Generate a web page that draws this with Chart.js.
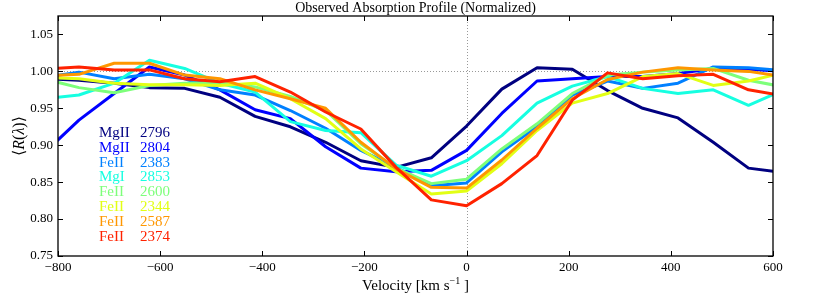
<!DOCTYPE html>
<html><head><meta charset="utf-8">
<script src="https://cdn.jsdelivr.net/npm/chart.js@4/dist/chart.umd.min.js"></script>
<style>html,body{margin:0;padding:0;background:#fff}#wrap{width:830px;height:301px}</style>
</head><body><div id="wrap"><canvas id="c" width="830" height="301"></canvas></div>
<script>
// velocity grid [km/s]
const velocity = [-828,-759,-690,-621,-552,-483,-414,-345,-276,-207,-138,-69,0,69,138,207,276,345,414,483,552,621];
// normalized profiles <R(lambda)>
const mgII2796 = [0.990,0.988,0.984,0.978,0.977,0.965,0.939,0.925,0.904,0.879,0.870,0.883,0.926,0.976,1.005,1.003,0.974,0.950,0.937,0.904,0.869,0.863];
const mgII2804 = [0.889,0.934,0.970,1.006,0.995,0.975,0.948,0.936,0.898,0.869,0.864,0.866,0.893,0.943,0.987,0.990,0.993,0.993,0.997,1.004,1.003,1.000];
const feII2383 = [0.992,0.999,0.990,0.996,0.990,0.975,0.968,0.947,0.923,0.893,0.870,0.845,0.849,0.891,0.925,0.968,0.987,0.977,0.984,1.006,1.005,1.001];
const mgI2853  = [0.963,0.968,0.984,1.015,1.004,0.984,0.972,0.932,0.920,0.917,0.873,0.858,0.879,0.913,0.957,0.980,0.993,0.977,0.970,0.975,0.954,0.975];
const feII2600 = [0.990,0.978,0.971,0.981,0.984,0.985,0.979,0.966,0.947,0.902,0.869,0.848,0.854,0.895,0.929,0.970,0.995,0.999,1.002,1.004,0.988,0.979];
const feII2344 = [0.992,0.990,0.984,0.982,0.982,0.981,0.984,0.963,0.936,0.895,0.864,0.834,0.838,0.875,0.920,0.957,0.970,0.993,0.997,0.981,0.987,0.998];
const feII2587 = [0.994,0.996,1.011,1.011,0.995,0.990,0.975,0.963,0.950,0.904,0.868,0.843,0.842,0.880,0.923,0.963,0.989,0.999,1.005,1.002,1.000,0.993];
const feII2374 = [1.003,1.006,1.002,1.002,0.990,0.986,0.993,0.972,0.945,0.922,0.870,0.826,0.818,0.848,0.886,0.961,0.998,0.990,0.994,0.996,0.975,0.967];

const ionNames = ['MgII','MgII','FeII','MgI','FeII','FeII','FeII','FeII'];
const wavelengths = ['2796','2804','2383','2853','2600','2344','2587','2374'];
const xTicks = [-800,-600,-400,-200,0,200,400,600];
const yTicks = [0.75,0.80,0.85,0.90,0.95,1.00,1.05];
const colors = ['#000080','#0000ff','#0080ff','#16ffe1','#7dff7a','#e2ff14','#ff9700','#ff2200'];
const series = [mgII2796,mgII2804,feII2383,mgI2853,feII2600,feII2344,feII2587,feII2374];
const chartTitle = 'Observed Absorption Profile (Normalized)';

const SERIF = "'Liberation Serif','DejaVu Serif',serif";

const datasets = series.map((vals, i) => ({
  label: ionNames[i] + ' ' + wavelengths[i],
  data: velocity.map((v, k) => ({x: v, y: vals[k]})),
  borderColor: colors[i],
  backgroundColor: colors[i],
  borderWidth: 3,
  pointRadius: 0,
  tension: 0,
  fill: false,
  clip: 0,
  borderJoinStyle: 'round',
  order: series.length - 1 - i
}));

const deco = {
  id: 'deco',
  beforeDatasetsDraw(chart) {
    const {ctx, chartArea: a, scales: {x, y}} = chart;
    ctx.save();
    ctx.strokeStyle = '#999'; ctx.lineWidth = 1; ctx.setLineDash([1, 2]);
    const y1 = Math.round(y.getPixelForValue(1.0)) + 0.5;
    ctx.beginPath(); ctx.moveTo(a.left, y1); ctx.lineTo(a.right, y1); ctx.stroke();
    const x0 = Math.round(x.getPixelForValue(0)) + 0.5;
    ctx.beginPath(); ctx.moveTo(x0, a.top); ctx.lineTo(x0, a.bottom); ctx.stroke();
    ctx.restore();
  },
  afterDraw(chart) {
    const {ctx, chartArea: a, scales: {x, y}} = chart;
    ctx.save();
    // frame
    ctx.strokeStyle = '#000'; ctx.lineWidth = 1.3;
    ctx.strokeRect(a.left, a.top, a.right - a.left, a.bottom - a.top);
    // inward ticks on all sides
    ctx.lineWidth = 1;
    const L = 5;
    xTicks.forEach(v => {
      const px = Math.round(x.getPixelForValue(v)) + 0.5;
      ctx.beginPath();
      ctx.moveTo(px, a.bottom); ctx.lineTo(px, a.bottom - L);
      ctx.moveTo(px, a.top); ctx.lineTo(px, a.top + L);
      ctx.stroke();
    });
    yTicks.forEach(v => {
      const py = Math.round(y.getPixelForValue(v)) + 0.5;
      ctx.beginPath();
      ctx.moveTo(a.left, py); ctx.lineTo(a.left + L, py);
      ctx.moveTo(a.right, py); ctx.lineTo(a.right - L, py);
      ctx.stroke();
    });
    // title centred over the plot area
    ctx.fillStyle = '#000';
    ctx.font = '14px ' + SERIF;
    ctx.textAlign = 'center';
    ctx.textBaseline = 'middle';
    ctx.fillText(chartTitle, (a.left + a.right) / 2, 8);
    // legend text
    ctx.font = '15px ' + SERIF;
    ctx.textBaseline = 'middle';
    ctx.textAlign = 'left';
    for (let i = 0; i < ionNames.length; i++) {
      ctx.fillStyle = colors[i];
      const ty = a.top + 117 + i * 14.8;
      ctx.fillText(ionNames[i], a.left + 41, ty);
      ctx.fillText(wavelengths[i], a.left + 82, ty);
    }
    // x axis title with superscript
    ctx.fillStyle = '#000';
    const cx = (a.left + a.right) / 2;
    const base = 290;
    const f1 = '15px ' + SERIF, f2 = '10px ' + SERIF;
    const p1 = 'Velocity [km s', p2 = '\u22121', p3 = ' ]';
    ctx.font = f1; const w1 = ctx.measureText(p1).width, w3 = ctx.measureText(p3).width;
    ctx.font = f2; const w2 = ctx.measureText(p2).width;
    let sx = cx - (w1 + w2 + w3) / 2;
    ctx.textBaseline = 'alphabetic';
    ctx.font = f1; ctx.fillText(p1, sx, base); sx += w1;
    ctx.font = f2; ctx.fillText(p2, sx, base - 6); sx += w2;
    ctx.font = f1; ctx.fillText(p3, sx, base);
    // y axis title
    ctx.translate(20, (a.top + a.bottom) / 2);
    ctx.rotate(-Math.PI / 2);
    const parts = [['\u27E8', ''], ['R', 'italic '], ['(', ''], ['\u03BB', 'italic '], [')', ''], ['\u27E9', '']];
    let tw = 0;
    parts.forEach(p => { ctx.font = p[1] + '16px ' + SERIF; p.push(ctx.measureText(p[0]).width); tw += p[2]; });
    let px = -tw / 2;
    ctx.textBaseline = 'middle';
    parts.forEach(p => { ctx.font = p[1] + '16px ' + SERIF; ctx.fillText(p[0], px, 0); px += p[2]; });
    ctx.restore();
  }
};

Chart.defaults.color = '#000';
new Chart(document.getElementById('c'), {
  type: 'line',
  data: { datasets },
  options: {
    responsive: false,
    animation: false,
    devicePixelRatio: 1,
    layout: { padding: { left: 0, right: 57, top: 16, bottom: 0 } },
    plugins: {
      legend: { display: false },
      tooltip: { enabled: false },
      title: { display: false }
    },
    scales: {
      x: {
        type: 'linear',
        min: -800, max: 600,
        afterBuildTicks: s => { s.ticks = xTicks.map(v => ({ value: v })); },
        afterFit: s => { s.height = 45; },
        grid: { display: false, drawTicks: false },
        border: { display: false },
        ticks: {
          padding: 4,
          maxRotation: 0,
          font: { family: SERIF, size: 13 },
          callback: v => String(v).replace('-', '\u2212')
        }
      },
      y: {
        type: 'linear',
        min: 0.75, max: 1.075,
        afterBuildTicks: s => { s.ticks = yTicks.map(v => ({ value: v })); },
        afterFit: s => { s.width = 58; },
        grid: { display: false, drawTicks: false },
        border: { display: false },
        ticks: {
          padding: 5,
          font: { family: SERIF, size: 13 },
          callback: v => Number(v).toFixed(2)
        }
      }
    }
  },
  plugins: [deco]
});
</script>
</body></html>
